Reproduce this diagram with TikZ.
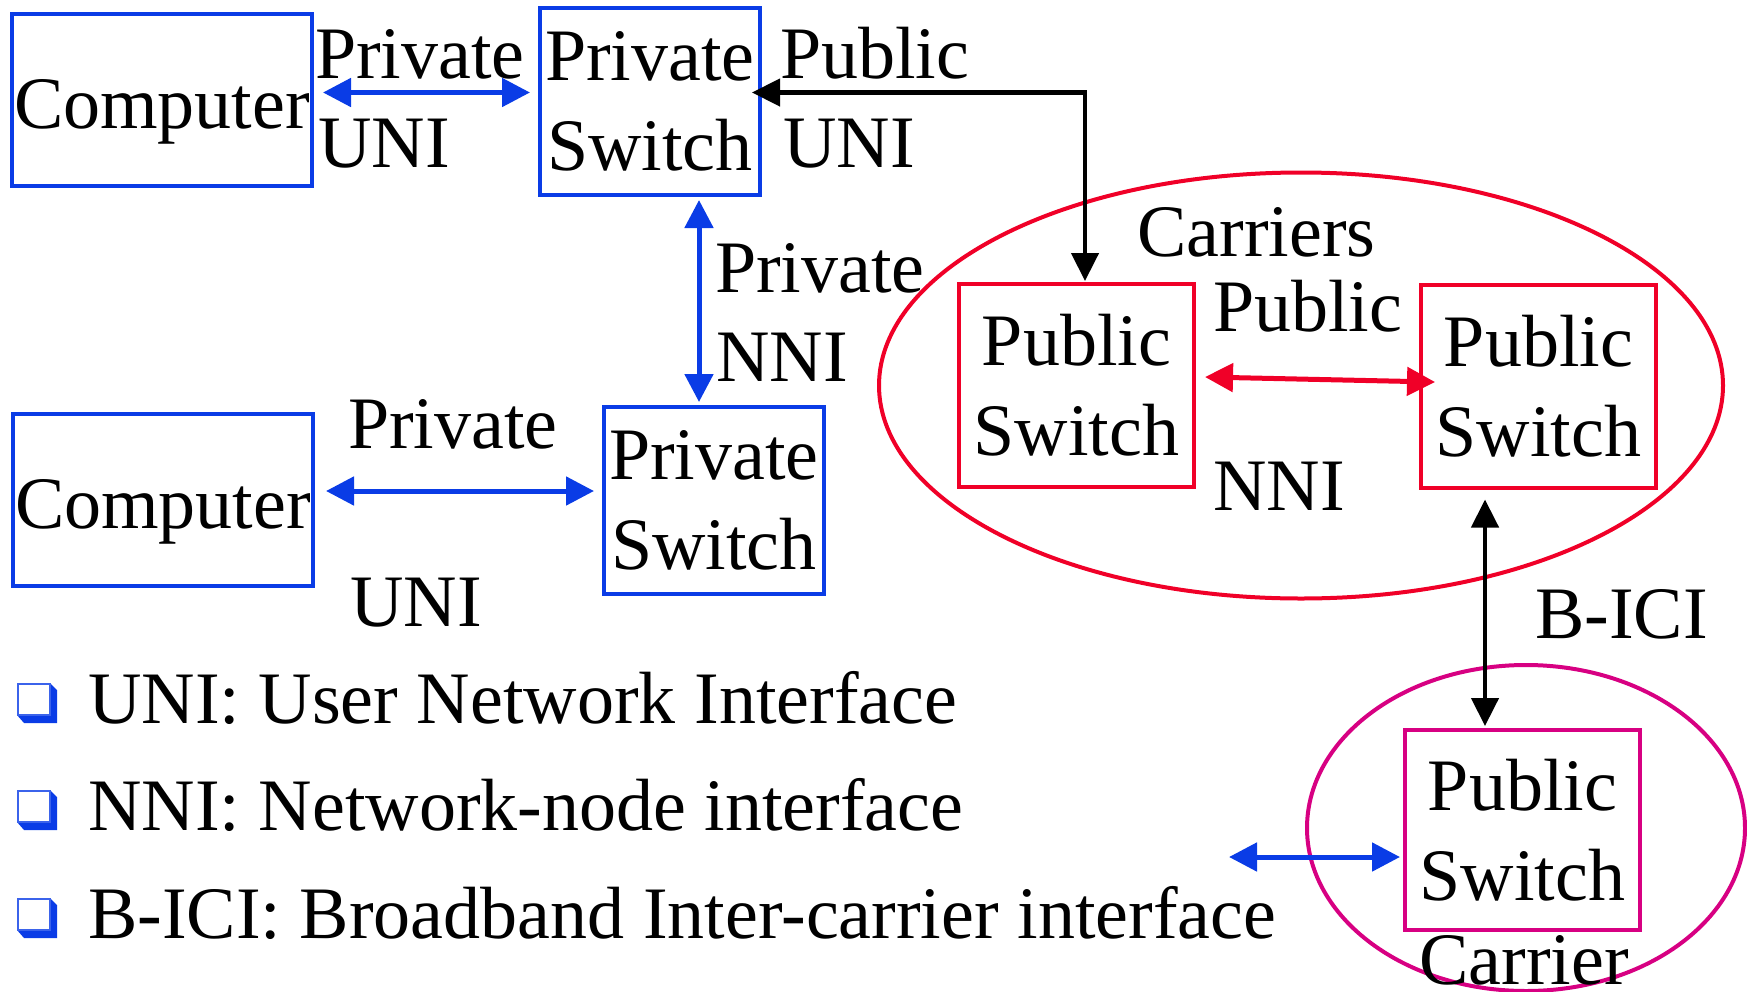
\documentclass[tikz,border=0pt]{standalone}
\usepackage{fontspec}
\setmainfont{Liberation Serif}
\usetikzlibrary{arrows.meta}
\definecolor{netblue}{RGB}{10,60,230}
\definecolor{carrierred}{RGB}{240,0,40}
\definecolor{carriermag}{RGB}{215,0,130}

\begin{document}
\begin{tikzpicture}[x=1pt,y=-1pt,
  every node/.style={font=\fontsize{74}{90}\selectfont, inner sep=0pt},
  boxbase/.style={draw, line width=4pt, align=center, fill=white},
  compbox/.style={boxbase, draw=netblue, minimum width=300pt, minimum height=172pt,
                  text height=72pt, text depth=16pt},
  privbox/.style={boxbase, draw=netblue, minimum width=220pt, minimum height=187pt},
  pubbox/.style={boxbase, draw=carrierred, minimum width=235pt, minimum height=203pt},
  carrbox/.style={boxbase, draw=carriermag, minimum width=235pt, minimum height=200pt},
  lbl/.style={anchor=base west},
  blink/.style={draw=netblue, line width=5pt, {Triangle[length=28pt,width=28pt]}-{Triangle[length=28pt,width=28pt]}},
  rlink/.style={draw=carrierred, line width=5pt, {Triangle[length=28pt,width=28pt]}-{Triangle[length=28pt,width=28pt]}},
  klink/.style={draw=black, line width=4.5pt, {Triangle[length=28pt,width=27pt]}-{Triangle[length=28pt,width=27pt]}},
  pics/boxbullet/.style={code={
    \fill[netblue] (33,0) -- (40,7) -- (40,40) -- (7,40) -- (0,32) -- (33,32) -- cycle;
    \draw[netblue!80, line width=2pt, fill=white] (1,1) rectangle (33,32);
  }}]
\useasboundingbox (0,0) rectangle (1747,991);

% carrier groupings
\draw[carrierred, line width=4pt] (1301,385.5) ellipse [x radius=422pt, y radius=213pt];
\draw[carriermag, line width=4pt] (1526,828) ellipse [x radius=219pt, y radius=163pt];

% switches and end systems
\node[compbox] (c1) at (162,100) {Computer};
\node[privbox] (ps1) at (650,101.5) {Private\\Switch};
\node[compbox] (c2) at (163,500) {Computer};
\node[privbox] (ps2) at (714,500.5) {Private\\Switch};
\node[pubbox] (pa) at (1076.5,385.5) {Public\\Switch};
\node[pubbox] (pb) at (1538.5,386) {Public\\Switch};
\node[carrbox] (pc) at (1522.5,830) {Public\\Switch};

% interface labels
\node[lbl] (l1) at (315,78) {Private};
\node[lbl] (l2) at (318,167) {UNI};
\node[lbl] (l3) at (780,78) {Public};
\node[lbl] (l4) at (783,167) {UNI};
\node[lbl] (l5) at (715,292) {Private};
\node[lbl] (l6) at (716,381) {NNI};
\node[lbl] (l7) at (348,448) {Private};
\node[lbl] (l8) at (350,626) {UNI};
\node[lbl] (l9) at (1137,256) {Carriers};
\node[lbl] (l10) at (1213,331) {Public};
\node[lbl] (l11) at (1213,510) {NNI};
\node[lbl] (l12) at (1535,638) {B-ICI};
\node[anchor=base] (l13) at (1524,984) {Carrier};

% links
\coordinate (bend) at (1085,92.5);
\coordinate (ext) at (1229,857);
\path[blink] ([xshift=9pt,yshift=7.5pt]c1.east) -- ([xshift=-8pt,yshift=9pt]ps1.west);
\path[klink] ([xshift=-10pt,yshift=9pt]ps1.east) -- (bend) -- ([xshift=8.5pt,yshift=1pt]pa.north);
\path[blink] ([xshift=49pt,yshift=-3pt]ps1.south) -- ([xshift=-15pt,yshift=3pt]ps2.north);
\path[blink] ([xshift=11pt,yshift=9pt]c2.east) -- ([xshift=-8pt,yshift=9.5pt]ps2.west);
\path[rlink] ([xshift=9pt,yshift=8.5pt]pa.east) -- ([xshift=16pt,yshift=4pt]pb.west);
\path[klink] ([xshift=-53.5pt,yshift=-10pt]pb.south) -- ([xshift=-37.5pt,yshift=2pt]pc.north);
\path[blink] (ext) -- ([xshift=-3pt,yshift=-27pt]pc.west);

% glossary
\pic at (17,683) {boxbullet};
\pic at (17,790) {boxbullet};
\pic at (17,898) {boxbullet};
\node[lbl] (g1) at (88,723) {UNI: User Network Interface};
\node[lbl] (g2) at (88,830) {NNI: Network-node interface};
\node[lbl] (g3) at (88,938) {B-ICI: Broadband Inter-carrier interface};
\end{tikzpicture}
\end{document}
